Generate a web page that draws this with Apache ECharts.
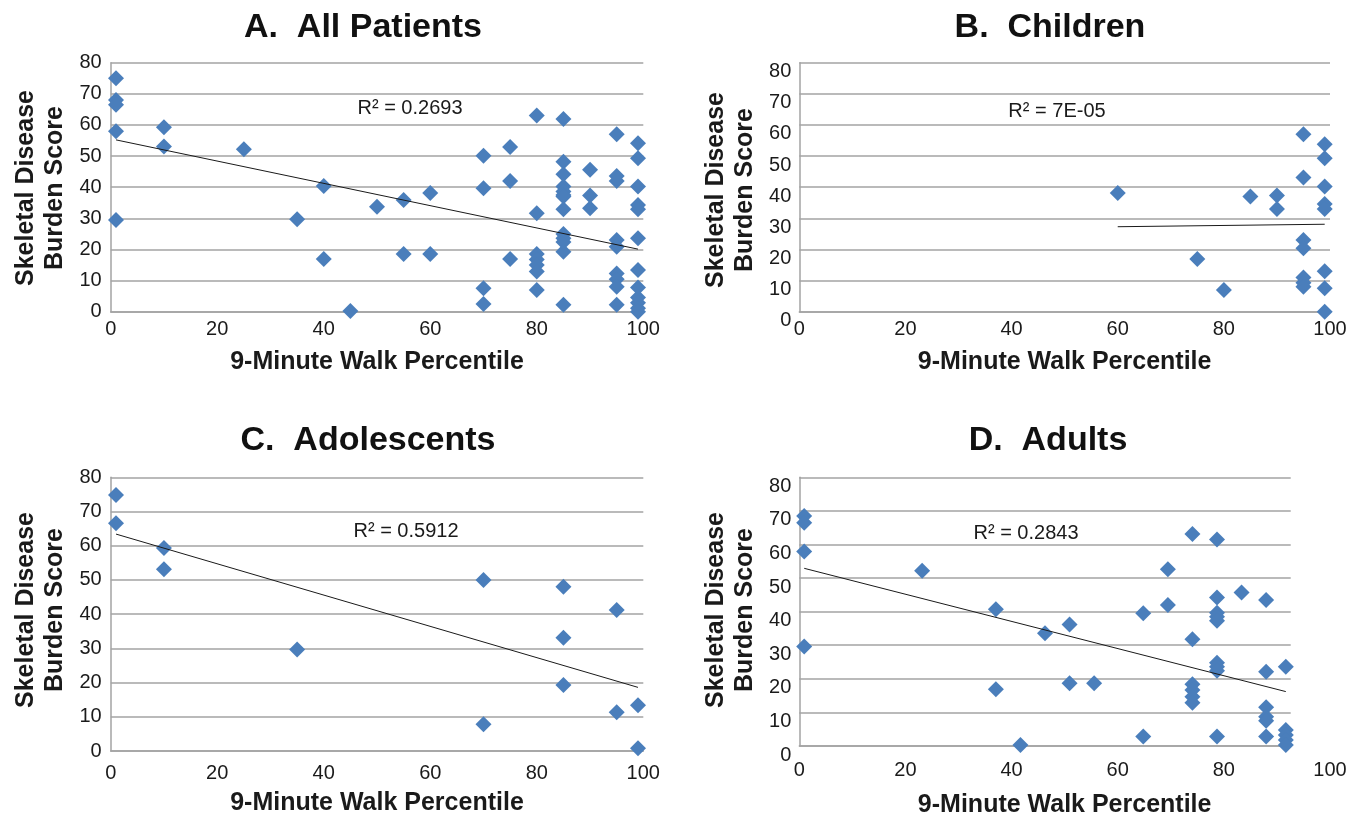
<!DOCTYPE html>
<html><head><meta charset="utf-8">
<script src="https://cdn.jsdelivr.net/npm/echarts@6/dist/echarts.min.js"></script>
<style>html,body{margin:0;padding:0;background:#fff}#c{width:1363px;height:819px}</style>
</head><body><div id="c"></div>
<script>
// ---------- DATA ----------
const panelTitles = ['A.  All Patients', 'B.  Children', 'C.  Adolescents', 'D.  Adults'];
const xTitle = '9-Minute Walk Percentile';
const yTitle = 'Skeletal Disease\nBurden Score';
const r2Labels = ['R\u00B2 = 0.2693', 'R\u00B2 = 7E-05', 'R\u00B2 = 0.5912', 'R\u00B2 = 0.2843'];
const xRange = [0, 100];
const yRange = [0, 80];

const pointsA = [
  [1,75],[1,68],[1,66.5],[1,58],[1,29.5],
  [10,59.3],[10,53.1],[25,52.2],[35,29.7],[40,40.4],[40,16.9],[45,0.2],[50,33.7],
  [55,35.9],[55,18.5],[60,38.1],[60,18.5],
  [70,50.1],[70,39.7],[70,7.5],[70,2.5],
  [75,52.9],[75,42],[75,16.9],
  [80,63],[80,31.6],[80,18.5],[80,16.8],[80,15],[80,12.9],[80,7],
  [85,61.9],[85,48.2],[85,44.2],[85,40.2],[85,38.6],[85,37.5],[85,37],[85,32.9],[85,25],[85,23.6],[85,22.4],[85,19.3],[85,2.2],
  [90,45.6],[90,37.3],[90,33.2],
  [95,57],[95,43.6],[95,42],[95,23],[95,20.9],[95,12.3],[95,10.4],[95,8],[95,2.2],
  [99,54.1],[99,49.3],[99,40.2],[99,34.3],[99,32.9],[99,23.6],[99,13.4],[99,7.8],[99,4.6],[99,2.9],[99,1.1],[99,0]
];
const pointsB = [
  [60,38.1],[75,16.9],[80,7],[85,37],[90,37.3],[90,33],
  [95,57],[95,43.1],[95,23],[95,20.4],[95,11],[95,9.3],[95,8],
  [99,53.8],[99,49.3],[99,40.2],[99,34.6],[99,33],[99,13],[99,7.5],[99,0]
];
const pointsC = [
  [1,74.8],[1,66.6],[10,59.3],[10,53.1],[35,29.7],[70,50],[70,7.8],
  [85,48],[85,33.1],[85,19.3],[95,41.2],[95,11.3],[99,13.4],[99,0.8]
];
const pointsD = [
  [1,68.5],[1,66.5],[1,57.9],[1,29.6],[25,52.2],[40,40.7],[40,16.9],[45,0.3],[50,33.6],
  [55,36.2],[55,18.7],[60,18.7],[70,39.5],[70,2.8],[75,52.6],[75,42],
  [80,63.1],[80,31.8],[80,18.4],[80,16.7],[80,14.7],[80,12.9],
  [85,61.5],[85,44.2],[85,39.7],[85,38.5],[85,37.3],[85,24.8],[85,23.6],[85,22.4],[85,2.8],
  [90,45.7],[95,43.5],[95,22.1],[95,11.5],[95,8.7],[95,7.5],[95,2.8],
  [99,23.6],[99,4.8],[99,3.3],[99,1.8],[99,0.3]
];
const trendA = [[1,55.2],[99,20.1]];
const trendB = [[60,27.3],[99,28.1]];
const trendC = [[1,63.4],[99,18.6]];
const trendD = [[1,52.9],[99,16.2]];

// ---------- STYLE ----------
const FONT = '"Liberation Sans", Arial, Helvetica, sans-serif';
const TXT = '#1a1a1a';
const GRIDC = '#a3a3a3';
const BLUE = '#4a7ebb';

const chart = echarts.init(document.getElementById('c'), null, {renderer: 'canvas'});

const grids = [
  {left: 110.7, right: 719.7, top: 62.7, bottom: 507.3},   // A
  {left: 799.3, right: 33,    top: 62.7, bottom: 507.3},   // B
  {left: 110.7, right: 719.7, top: 477.3, bottom: 68},     // C
  {left: 799.3, right: 72.3,  top: 477.3, bottom: 73},     // D (plot)
  {left: 799.3, right: 33,    top: 477.3, bottom: 73}      // D (tick-label axis)
];

function xAx(gi, opts) {
  return Object.assign({
    type: 'value', gridIndex: gi, min: xRange[0], max: xRange[1], interval: 20,
    axisLine: {show: true, lineStyle: {color: GRIDC, width: 1.5}},
    axisTick: {show: false},
    splitLine: {show: false},
    axisLabel: {color: TXT, fontSize: 20, fontFamily: FONT, margin: 8},
    name: xTitle, nameLocation: 'middle', nameGap: 38,
    nameTextStyle: {color: TXT, fontSize: 25, fontWeight: 'bold', fontFamily: FONT}
  }, opts || {});
}
function yAx(gi, opts) {
  return Object.assign({
    type: 'value', gridIndex: gi, min: yRange[0], max: yRange[1], interval: 10,
    axisLine: {show: true, lineStyle: {color: GRIDC, width: 1.5}},
    axisTick: {show: false},
    splitLine: {show: true, lineStyle: {color: GRIDC, width: 1.5}},
    axisLabel: {color: TXT, fontSize: 20, fontFamily: FONT, margin: 9}
  }, opts || {});
}

const xAxes = [
  xAx(0),
  xAx(1),
  xAx(2, {axisLabel: {color: TXT, fontSize: 20, fontFamily: FONT, margin: 12}, nameGap: 40}),
  xAx(3, {axisLabel: {show: false}, name: ''}),
  xAx(4, {axisLine: {show: false}, axisLabel: {color: TXT, fontSize: 20, fontFamily: FONT, margin: 14}, nameGap: 47})
];
const yAxes = [
  yAx(0),
  yAx(1, {axisLabel: {color: TXT, fontSize: 20, fontFamily: FONT, margin: 8, verticalAlign: 'top', padding: [-1, 0, 0, 0]}}),
  yAx(2),
  yAx(3, {axisLabel: {color: TXT, fontSize: 20, fontFamily: FONT, margin: 8, verticalAlign: 'top', padding: [-1, 0, 0, 0]}}),
  yAx(4, {show: false, splitLine: {show: false}})
];

const pts = [pointsA, pointsB, pointsC, pointsD];
const trends = [trendA, trendB, trendC, trendD];
const series = [];
pts.forEach((p, i) => {
  series.push({
    type: 'scatter', xAxisIndex: i, yAxisIndex: i, data: p,
    symbol: 'diamond', symbolSize: 16, itemStyle: {color: BLUE, opacity: 1},
    z: 3, silent: true
  });
  series.push({
    type: 'line', xAxisIndex: i, yAxisIndex: i, data: trends[i],
    symbol: 'none', lineStyle: {color: '#1a1a1a', width: 1}, z: 4, silent: true
  });
});

const titlePos = [[363, 28], [1050, 28], [368, 441], [1048, 441]];
const yTitlePos = [[40.5, 188], [730.5, 190], [40.5, 610], [730.5, 610]];
const r2Pos = [[410, 108], [1057, 111], [406, 531], [1026, 533]];
const graphics = [];
for (let i = 0; i < 4; i++) {
  graphics.push({type: 'text', x: titlePos[i][0], y: titlePos[i][1],
    style: {text: panelTitles[i], font: 'bold 34px ' + FONT, fill: '#111', textAlign: 'center', textVerticalAlign: 'middle'}});
  graphics.push({type: 'text', x: yTitlePos[i][0], y: yTitlePos[i][1], rotation: Math.PI / 2,
    style: {text: yTitle, font: 'bold 25px ' + FONT, fill: TXT, textAlign: 'center', textVerticalAlign: 'middle', lineHeight: 29}});
  graphics.push({type: 'text', x: r2Pos[i][0], y: r2Pos[i][1],
    style: {text: r2Labels[i], font: '20px ' + FONT, fill: TXT, textAlign: 'center', textVerticalAlign: 'middle'}});
}

chart.setOption({
  animation: false,
  backgroundColor: '#ffffff',
  grid: grids,
  xAxis: xAxes,
  yAxis: yAxes,
  series: series,
  graphic: graphics
});
</script>
</body></html>
